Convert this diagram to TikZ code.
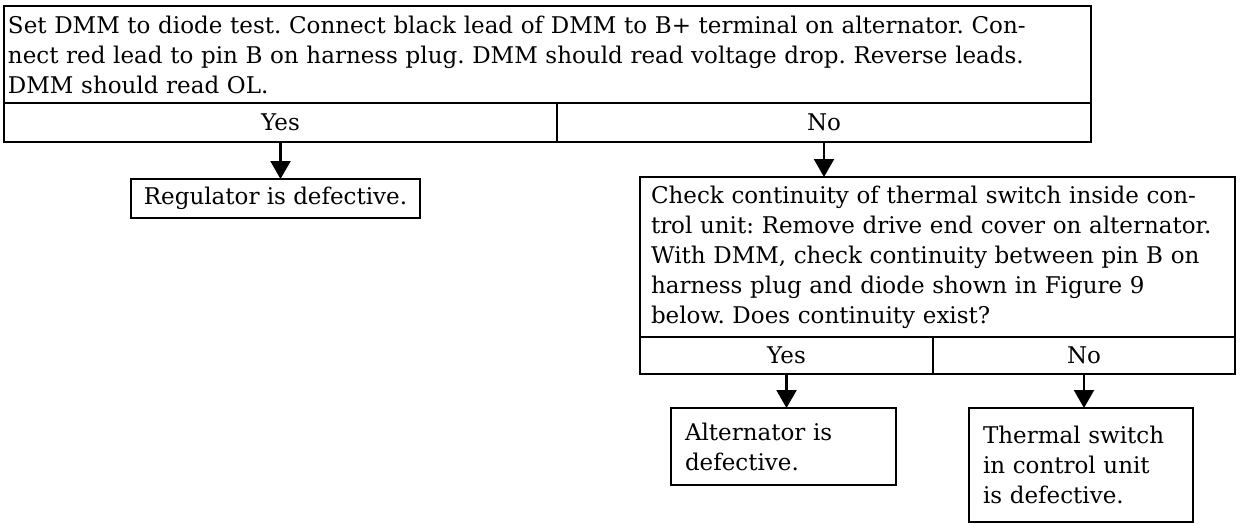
\documentclass[tikz,border=0pt]{standalone}
\usepackage{fontspec}
\setmainfont{DejaVu Serif}
\usepackage{tikz}
\usetikzlibrary{arrows.meta,positioning}
\tikzset{
  basebox/.style = {rectangle, draw=black, line width=2pt, outer sep=0pt,
    inner sep=0pt, font=\fontsize{23}{30}\selectfont},
  stepbox/.style = {basebox, align=left},% question box
  ansbox/.style = {basebox, align=center},% yes / no cell
  endbox/.style = {basebox, align=left, inner xsep=14pt},% result box
  flow/.style = {line width=2.2pt, -{Triangle[width=20pt,length=18pt]}}
}
\frenchspacing
\begin{document}
\begin{tikzpicture}[x=1pt,y=-1pt]
        \useasboundingbox (0,0) rectangle (1243,523);
        \node [stepbox, anchor=north west, inner xsep=4pt, text width=1079pt,
               minimum height=97pt] (test) at (4,6)
              {Set DMM to diode test. Connect black lead of DMM to B+ terminal on alternator. Con-\\
               nect red lead to pin B on harness plug. DMM should read voltage drop. Reverse leads.\\
               DMM should read OL.};
        \node [ansbox, below right=0pt and 0pt of test.south west,
               minimum width=553pt, minimum height=39pt] (yesA) {Yes};
        \node [ansbox, right=0pt of yesA,
               minimum width=534pt, minimum height=39pt] (noA) {No};
        \node [ansbox, below=37pt of yesA, xshift=-5pt,
               minimum width=289pt, minimum height=39pt] (reg) {Regulator is defective.};
        \node [stepbox, below right=35pt and 83pt of noA.south west, inner xsep=11pt,
               text width=573pt, minimum height=160pt] (chk)
              {Check continuity of thermal switch inside con-\\
               trol unit: Remove drive end cover on alternator.\\
               With DMM, check continuity between pin B on\\
               harness plug and diode shown in Figure 9\\
               below. Does continuity exist?};
        \node [ansbox, below right=0pt and 0pt of chk.south west,
               minimum width=293pt, minimum height=37pt] (yesB) {Yes};
        \node [ansbox, right=0pt of yesB,
               minimum width=302pt, minimum height=37pt] (noB) {No};
        \node [endbox, below=34pt of yesB, xshift=-3pt,
               text width=197pt, minimum height=77pt] (alt)
              {Alternator is\\ defective.};
        \node [endbox, below=34pt of noB, xshift=-3pt,
               text width=196pt, minimum height=114pt] (thm)
              {Thermal switch\\ in control unit\\ is defective.};
        \draw [flow] (yesA.south) -- (yesA.south |- reg.north);
        \draw [flow] (noA.south) -- (noA.south |- chk.north);
        \draw [flow] (yesB.south) -- (yesB.south |- alt.north);
        \draw [flow] (noB.south) -- (noB.south |- thm.north);
\end{tikzpicture}
\end{document}
